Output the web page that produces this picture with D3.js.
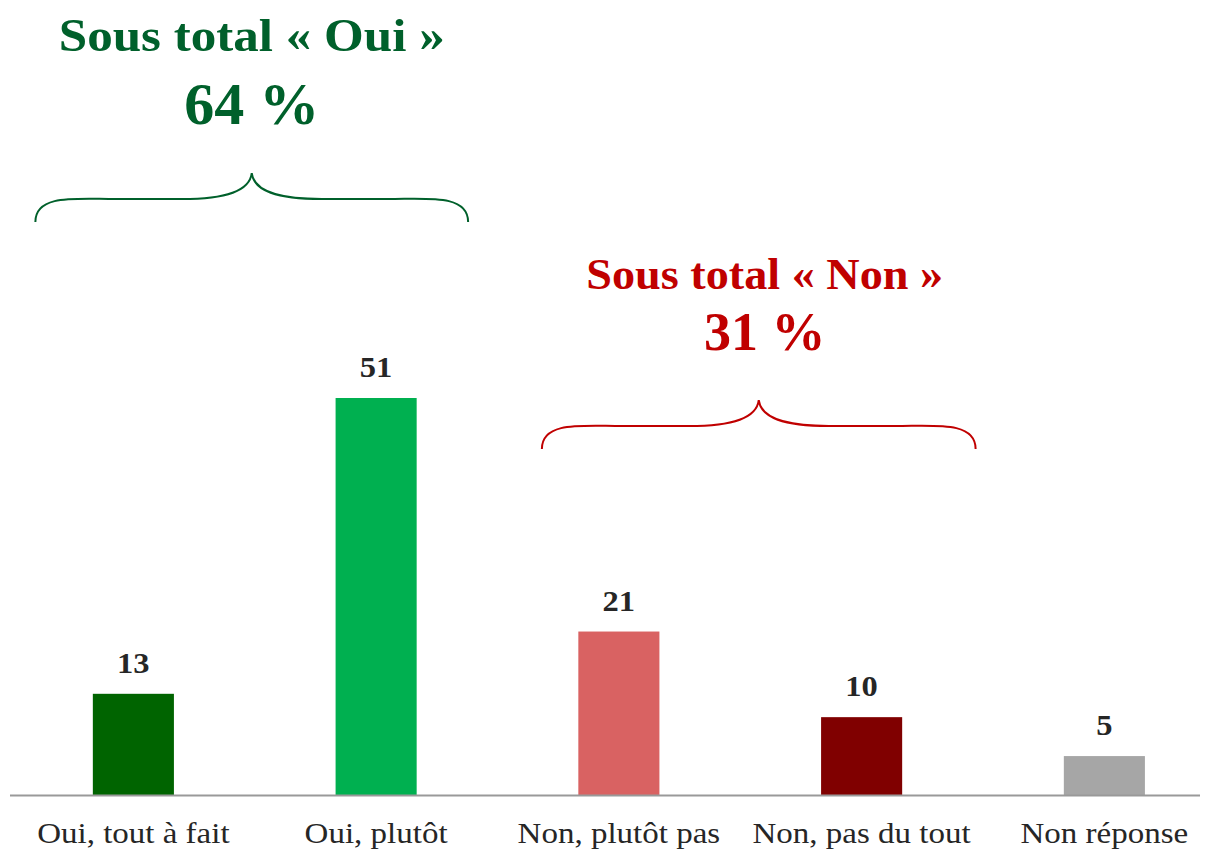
<!DOCTYPE html>
<html><head><meta charset="utf-8">
<script src="https://cdn.jsdelivr.net/npm/d3@7/dist/d3.min.js"></script>
<style>html,body{margin:0;padding:0;background:#fff}svg{display:block}</style>
</head><body>
<svg id="c" width="1214" height="850"></svg>
<script>
const categories = ["Oui, tout à fait", "Oui, plutôt", "Non, plutôt pas", "Non, pas du tout", "Non réponse"];
const values = [13, 51, 21, 10, 5];
const barColors = ["#006400", "#00B050", "#D96262", "#800000", "#A6A6A6"];
const groups = [
  {title: "Sous total « Oui »", total: "64 %", from: 0, to: 1, color: "#00602B"},
  {title: "Sous total « Non »", total: "31 %", from: 2, to: 3, color: "#C00000"}
];

const font = "'Liberation Serif', 'Times New Roman', serif";
const svg = d3.select("#c");
const x = d3.scaleBand().domain(categories).range([12, 1225.75]).paddingInner(0.666).paddingOuter(0.333);
const y = d3.scaleLinear().domain([0, 51]).range([795, 398]);

function stretch(sel, f) {
  sel.each(function() {
    const w = this.getComputedTextLength();
    d3.select(this).attr("textLength", w * f).attr("lengthAdjust", "spacingAndGlyphs");
  });
}

svg.selectAll("rect.bar").data(values).join("rect")
  .attr("x", (d,i) => x(categories[i]))
  .attr("width", x.bandwidth())
  .attr("y", d => y(d))
  .attr("height", d => y(0) - y(d))
  .attr("fill", (d,i) => barColors[i]);

svg.append("line").attr("x1", 10).attr("x2", 1200).attr("y1", y(0)+0.5).attr("y2", y(0)+0.5)
  .attr("stroke", "#999").attr("stroke-width", 2);

svg.selectAll("text.val").data(values).join("text")
  .attr("x", (d,i) => x(categories[i]) + x.bandwidth()/2)
  .attr("y", d => y(d) - 21)
  .attr("text-anchor", "middle")
  .attr("font-family", font).attr("font-weight", "bold").attr("font-size", 29)
  .attr("fill", "#262626").text(d => d)
  .call(stretch, 1.12);

svg.selectAll("text.cat").data(categories).join("text")
  .attr("x", d => x(d) + x.bandwidth()/2)
  .attr("y", 843)
  .attr("text-anchor", "middle")
  .attr("font-family", font).attr("font-size", 30)
  .attr("fill", "#262626").text(d => d)
  .call(stretch, 1.1);

const cx = i => x(categories[i]) + x.bandwidth()/2;
const layout = [
  {x0: -98, x1: 92, yTip: 173, yMid: 199, yEnd: 222, tY: 51, pY: 124, tS: 46, pS: 60, tx: 0, tf: 1.11, pf: 1.0},
  {x0: -77, x1: 114, yTip: 400, yMid: 426, yEnd: 449, tY: 289, pY: 350, tS: 44, pS: 54, tx: 6, tf: 1.05, pf: 1.0}
];
groups.forEach((g, k) => {
  const L = layout[k];
  const a = cx(g.from) + L.x0, b = cx(g.to) + L.x1, m = (a + b) / 2;
  const p = d3.path();
  p.moveTo(a, L.yEnd);
  p.bezierCurveTo(a, L.yMid - 5, a + 40, L.yMid, a + 80, L.yMid);
  p.lineTo(m - 70, L.yMid);
  p.bezierCurveTo(m - 25, L.yMid, m - 2, L.yMid - 8, m, L.yTip);
  p.bezierCurveTo(m + 2, L.yMid - 8, m + 25, L.yMid, m + 70, L.yMid);
  p.lineTo(b - 80, L.yMid);
  p.bezierCurveTo(b - 40, L.yMid, b, L.yMid - 5, b, L.yEnd);
  svg.append("path").attr("d", p.toString()).attr("fill", "none")
    .attr("stroke", g.color).attr("stroke-width", 2);
  svg.append("text").attr("x", m + L.tx).attr("y", L.tY).attr("text-anchor", "middle")
    .attr("font-family", font).attr("font-weight", "bold").attr("font-size", L.tS)
    .attr("fill", g.color).text(g.title).call(stretch, L.tf);
  svg.append("text").attr("x", m + L.tx).attr("y", L.pY).attr("text-anchor", "middle")
    .attr("font-family", font).attr("font-weight", "bold").attr("font-size", L.pS)
    .attr("fill", g.color).text(g.total).call(stretch, L.pf);
});
</script>
</body></html>
